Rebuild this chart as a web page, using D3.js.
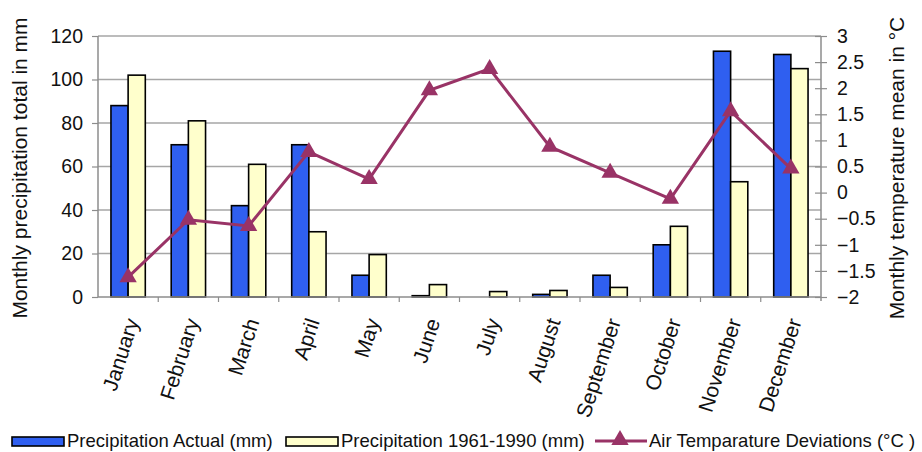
<!DOCTYPE html>
<html>
<head>
<meta charset="utf-8">
<script src="https://cdn.jsdelivr.net/npm/d3@7"></script>
<style>
  html, body { margin: 0; padding: 0; background: #fff; }
  svg { display: block; font-family: "Liberation Sans", Arial, sans-serif; }
</style>
</head>
<body>
<svg id="chart" width="922" height="452"></svg>
<script>
// Monthly data
const months = ["January", "February", "March", "April", "May", "June",
                "July", "August", "September", "October", "November", "December"];
const precipActual = [88, 70, 42, 70, 10, 0.6, 0, 1.2, 10, 24, 113, 111.5];
const precipNormal = [102, 81, 61, 30, 19.5, 5.7, 2.5, 3, 4.4, 32.5, 53, 105];
const tempDeviation = [-1.62, -0.52, -0.64, 0.78, 0.26, 1.96, 2.37, 0.88, 0.38, -0.12, 1.56, 0.46];

const precipTicks = [0, 20, 40, 60, 80, 100, 120];
const tempTicks = [-2, -1.5, -1, -0.5, 0, 0.5, 1, 1.5, 2, 2.5, 3];

const seriesNames = ["Precipitation Actual (mm)", "Precipitation 1961-1990 (mm)", "Air Temparature Deviations (°C )"];

const svg = d3.select("#chart");
const m = { left: 98, right: 821, top: 36, bottom: 297 };

const x = d3.scaleBand().domain(months).range([m.left, m.right]).paddingInner(0).paddingOuter(0);
const yP = d3.scaleLinear().domain([0, 120]).range([m.bottom, m.top]);
const yT = d3.scaleLinear().domain([-2, 3]).range([m.bottom, m.top]);

const blue = "#2f5ff0", cream = "#ffffcc", plum = "#993366", grid = "#a6a6a6", axisC = "#8c8c8c";

// gridlines
svg.append("g").selectAll("line").data(precipTicks.slice(1)).join("line")
  .attr("x1", m.left).attr("x2", m.right)
  .attr("y1", d => yP(d)).attr("y2", d => yP(d))
  .attr("stroke", grid).attr("stroke-width", 1.5);

// bars
const bw = x.bandwidth();
const barW = bw * 0.285;
const g0 = (bw - 2 * barW) / 2;
const bars = svg.append("g");
bars.selectAll("rect.a").data(months).join("rect").attr("class", "a")
  .attr("x", d => x(d) + g0).attr("width", barW)
  .attr("y", (d, i) => yP(precipActual[i])).attr("height", (d, i) => yP(0) - yP(precipActual[i]))
  .attr("fill", blue).attr("stroke", "#000").attr("stroke-width", 1.6);
bars.selectAll("rect.n").data(months).join("rect").attr("class", "n")
  .attr("x", d => x(d) + g0 + barW).attr("width", barW)
  .attr("y", (d, i) => yP(precipNormal[i])).attr("height", (d, i) => yP(0) - yP(precipNormal[i]))
  .attr("fill", cream).attr("stroke", "#000").attr("stroke-width", 1.6);

// axes
const axL = svg.append("g").attr("transform", `translate(${m.left},0)`)
  .call(d3.axisLeft(yP).tickValues(precipTicks).tickSize(6).tickPadding(9));
const axR = svg.append("g").attr("transform", `translate(${m.right},0)`)
  .call(d3.axisRight(yT).tickValues(tempTicks).tickSize(6).tickPadding(10).tickFormat(d => d3.format("")(d)));
axR.selectAll(".tick line").attr("x1", -6);
const axB = svg.append("g").attr("transform", `translate(0,${m.bottom})`)
  .call(d3.axisBottom(x).tickSize(0).tickFormat(""));
// boundary ticks between categories
axB.selectAll("line.sep").data(months.slice(1)).join("line").attr("class", "sep")
  .attr("x1", d => x(d)).attr("x2", d => x(d)).attr("y1", 0).attr("y2", 5)
  .attr("stroke", axisC).attr("stroke-width", 1.2);

[axL, axR, axB].forEach(a => {
  a.select(".domain").attr("stroke", axisC).attr("stroke-width", 1.5);
  a.selectAll(".tick line").attr("stroke", axisC).attr("stroke-width", 1.2);
  a.selectAll("text").attr("font-size", 19.5).attr("fill", "#111")
    .attr("font-family", "'Liberation Sans', Arial, sans-serif");
});
axL.select(".domain").attr("d", `M0,${m.bottom}V${m.top}`);
axR.select(".domain").attr("d", `M0,${m.bottom + 4}V${m.top}`);
axB.select(".domain").attr("d", `M${m.left},0H${m.right}`);

// month labels
svg.append("g").selectAll("text").data(months).join("text")
  .attr("transform", d => `translate(${x(d) + bw / 2 + 4},${m.bottom + 22}) rotate(-72)`)
  .attr("text-anchor", "end").attr("dy", "0.35em")
  .attr("font-size", 21).attr("fill", "#111")
  .text(d => d);

// temperature line
const cx = d => x(d) + bw / 2;
const line = d3.line().x((d, i) => cx(months[i])).y(d => yT(d));
svg.append("path").datum(tempDeviation).attr("d", line)
  .attr("fill", "none").attr("stroke", plum).attr("stroke-width", 3);
const tri = d3.symbol().type(d3.symbolTriangle).size(130);
svg.append("g").selectAll("path").data(tempDeviation).join("path")
  .attr("transform", (d, i) => `translate(${cx(months[i])},${yT(d)})`)
  .attr("d", tri).attr("fill", plum);

// axis titles
svg.append("text").attr("transform", `translate(27,168) rotate(-90)`)
  .attr("text-anchor", "middle").attr("font-size", 21).attr("fill", "#111")
  .text("Monthly precipitation total in mm");
svg.append("text").attr("transform", `translate(904,168) rotate(-90)`)
  .attr("text-anchor", "middle").attr("font-size", 21).attr("fill", "#111")
  .text("Monthly temperature mean in °C");

// legend
const leg = svg.append("g").attr("font-size", 18.5).attr("fill", "#111");
const ly = 441;
leg.append("rect").attr("x", 12).attr("y", ly - 4).attr("width", 52).attr("height", 9)
  .attr("fill", blue).attr("stroke", "#000").attr("stroke-width", 1.6);
leg.append("text").attr("x", 67).attr("y", ly).attr("dy", "0.35em").text(seriesNames[0]);
leg.append("rect").attr("x", 286).attr("y", ly - 4).attr("width", 52).attr("height", 9)
  .attr("fill", cream).attr("stroke", "#000").attr("stroke-width", 1.6);
leg.append("text").attr("x", 341).attr("y", ly).attr("dy", "0.35em").text(seriesNames[1]);
leg.append("line").attr("x1", 595).attr("x2", 647).attr("y1", ly).attr("y2", ly)
  .attr("stroke", plum).attr("stroke-width", 3);
leg.append("path").attr("transform", `translate(620,${ly - 1})`).attr("d", tri).attr("fill", plum);
leg.append("text").attr("x", 649).attr("y", ly).attr("dy", "0.35em").text(seriesNames[2]);
</script>
</body>
</html>
